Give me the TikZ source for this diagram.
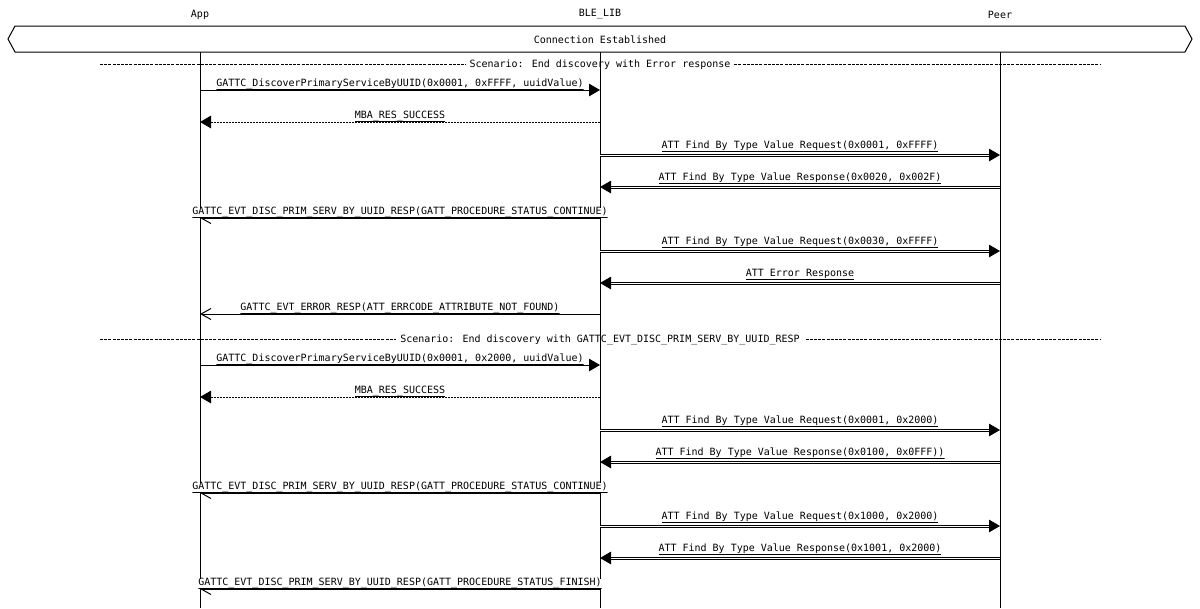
\documentclass[tikz,border=0pt]{standalone}
\usepackage{fontspec}
\newfontfamily\mscmono{DejaVu Sans Mono}
\newcommand\mscfont{\mscmono\fontsize{7.5pt}{9pt}\selectfont}
\usetikzlibrary{arrows.meta,calc,positioning}

\tikzset{
	lbl/.style={fill=white, inner sep=0pt, anchor=south, text height=5.6pt, text depth=1.9pt,
		path picture={\draw[line width=0.75pt] ([yshift=0.375pt]path picture bounding box.south west) -- ([yshift=0.375pt]path picture bounding box.south east);}},
	dlbl/.style={lbl, yshift=2.25pt},
	call/.style={-{Triangle[length=8.25pt,width=9.4pt]}},
	reply/.style={call, dash pattern=on 1.5pt off 0.75pt},
	sig/.style={-{Straight Barb[length=7.5pt,width=8.25pt]}},
	dcall/.style={draw=white, -{Triangle[length=8.25pt,width=9.4pt,color=black]},
		preaction={draw=black, -, shorten >=6pt, transform canvas={yshift=0.75pt}},
		preaction={draw=black, -, shorten >=6pt, transform canvas={yshift=-0.75pt}}},
	sepline/.style={dash pattern=on 2.25pt off 0.9pt},
	septext/.style={fill=white, inner xsep=3pt, inner ysep=1pt}
}

\begin{document}
\begin{tikzpicture}[x=0.75pt, y=-0.75pt, line width=0.75pt]
		\tikzstyle{every node}=[font=\mscfont]
		\useasboundingbox (0,0) rectangle (1200,608);
		% entities
		\node (app) at (200,14.5) {App};
		\node (lib) at (600,14.5) {BLE\_LIB};
		\node (peer) at (1000,14.5) {Peer};
		\draw (8,39) -- (15,26) -- (1185,26) -- (1192,39) -- (1185,52) -- (15,52) -- cycle;
		\node (conn) at (600,40) {Connection Established};
		\coordinate (top) at (0,52);
		\coordinate (bot) at (0,608);
		% scenarios
		\coordinate (s1l) at (100,64);
		\coordinate (s1r) at (1100,64);
		\coordinate (s2l) at (100,339);
		\coordinate (s2r) at (1100,339);
		\draw [sepline] (s1l) -- (s1r);
		\draw [sepline] (s2l) -- (s2r);
		\node [septext] (s1) at (600,65) {Scenario: End discovery with Error response};
		\node [septext] (s2) at (600,340) {Scenario: End discovery with GATTC\_EVT\_DISC\_PRIM\_SERV\_BY\_UUID\_RESP};
		% lifelines
		\draw (app |- top) -- (app |- bot);
		\draw (lib |- top) -- (lib |- bot);
		\draw (peer |- top) -- (peer |- bot);
		% rows
		\coordinate (r1) at (0,90);
		\coordinate (r2) at (0,122);
		\coordinate (r3) at (0,155);
		\coordinate (r4) at (0,187);
		\coordinate (r5) at (0,218);
		\coordinate (r6) at (0,251);
		\coordinate (r7) at (0,283);
		\coordinate (r8) at (0,314);
		\coordinate (r9) at (0,365);
		\coordinate (r10) at (0,397);
		\coordinate (r11) at (0,430);
		\coordinate (r12) at (0,462);
		\coordinate (r13) at (0,493);
		\coordinate (r14) at (0,526);
		\coordinate (r15) at (0,558);
		\coordinate (r16) at (0,589);
		% first scenario
		\draw [call] (app |- r1) -- (lib |- r1);
		\draw [reply] (lib |- r2) -- (app |- r2);
		\draw [dcall] (lib |- r3) -- (peer |- r3);
		\draw [dcall] (peer |- r4) -- (lib |- r4);
		\draw [sig] (lib |- r5) -- (app |- r5);
		\draw [dcall] (lib |- r6) -- (peer |- r6);
		\draw [dcall] (peer |- r7) -- (lib |- r7);
		\draw [sig] (lib |- r8) -- (app |- r8);
		\node [lbl] (m1) at (400,90) {GATTC\_DiscoverPrimaryServiceByUUID(0x0001, 0xFFFF, uuidValue)};
		\node [lbl] (m2) at (400,122) {MBA\_RES\_SUCCESS};
		\node [dlbl] (m3) at (800,155) {ATT Find By Type Value Request(0x0001, 0xFFFF)};
		\node [dlbl] (m4) at (800,187) {ATT Find By Type Value Response(0x0020, 0x002F)};
		\node [lbl] (m5) at (400,218) {GATTC\_EVT\_DISC\_PRIM\_SERV\_BY\_UUID\_RESP(GATT\_PROCEDURE\_STATUS\_CONTINUE)};
		\node [dlbl] (m6) at (800,251) {ATT Find By Type Value Request(0x0030, 0xFFFF)};
		\node [dlbl] (m7) at (800,283) {ATT Error Response};
		\node [lbl] (m8) at (400,314) {GATTC\_EVT\_ERROR\_RESP(ATT\_ERRCODE\_ATTRIBUTE\_NOT\_FOUND)};
		% second scenario
		\draw [call] (app |- r9) -- (lib |- r9);
		\draw [reply] (lib |- r10) -- (app |- r10);
		\draw [dcall] (lib |- r11) -- (peer |- r11);
		\draw [dcall] (peer |- r12) -- (lib |- r12);
		\draw [sig] (lib |- r13) -- (app |- r13);
		\draw [dcall] (lib |- r14) -- (peer |- r14);
		\draw [dcall] (peer |- r15) -- (lib |- r15);
		\draw [sig] (lib |- r16) -- (app |- r16);
		\node [lbl] (m9) at (400,365) {GATTC\_DiscoverPrimaryServiceByUUID(0x0001, 0x2000, uuidValue)};
		\node [lbl] (m10) at (400,397) {MBA\_RES\_SUCCESS};
		\node [dlbl] (m11) at (800,430) {ATT Find By Type Value Request(0x0001, 0x2000)};
		\node [dlbl] (m12) at (800,462) {ATT Find By Type Value Response(0x0100, 0x0FFF))};
		\node [lbl] (m13) at (400,493) {GATTC\_EVT\_DISC\_PRIM\_SERV\_BY\_UUID\_RESP(GATT\_PROCEDURE\_STATUS\_CONTINUE)};
		\node [dlbl] (m14) at (800,526) {ATT Find By Type Value Request(0x1000, 0x2000)};
		\node [dlbl] (m15) at (800,558) {ATT Find By Type Value Response(0x1001, 0x2000)};
		\node [lbl] (m16) at (400,589) {GATTC\_EVT\_DISC\_PRIM\_SERV\_BY\_UUID\_RESP(GATT\_PROCEDURE\_STATUS\_FINISH)};
	\end{tikzpicture}
\end{document}
